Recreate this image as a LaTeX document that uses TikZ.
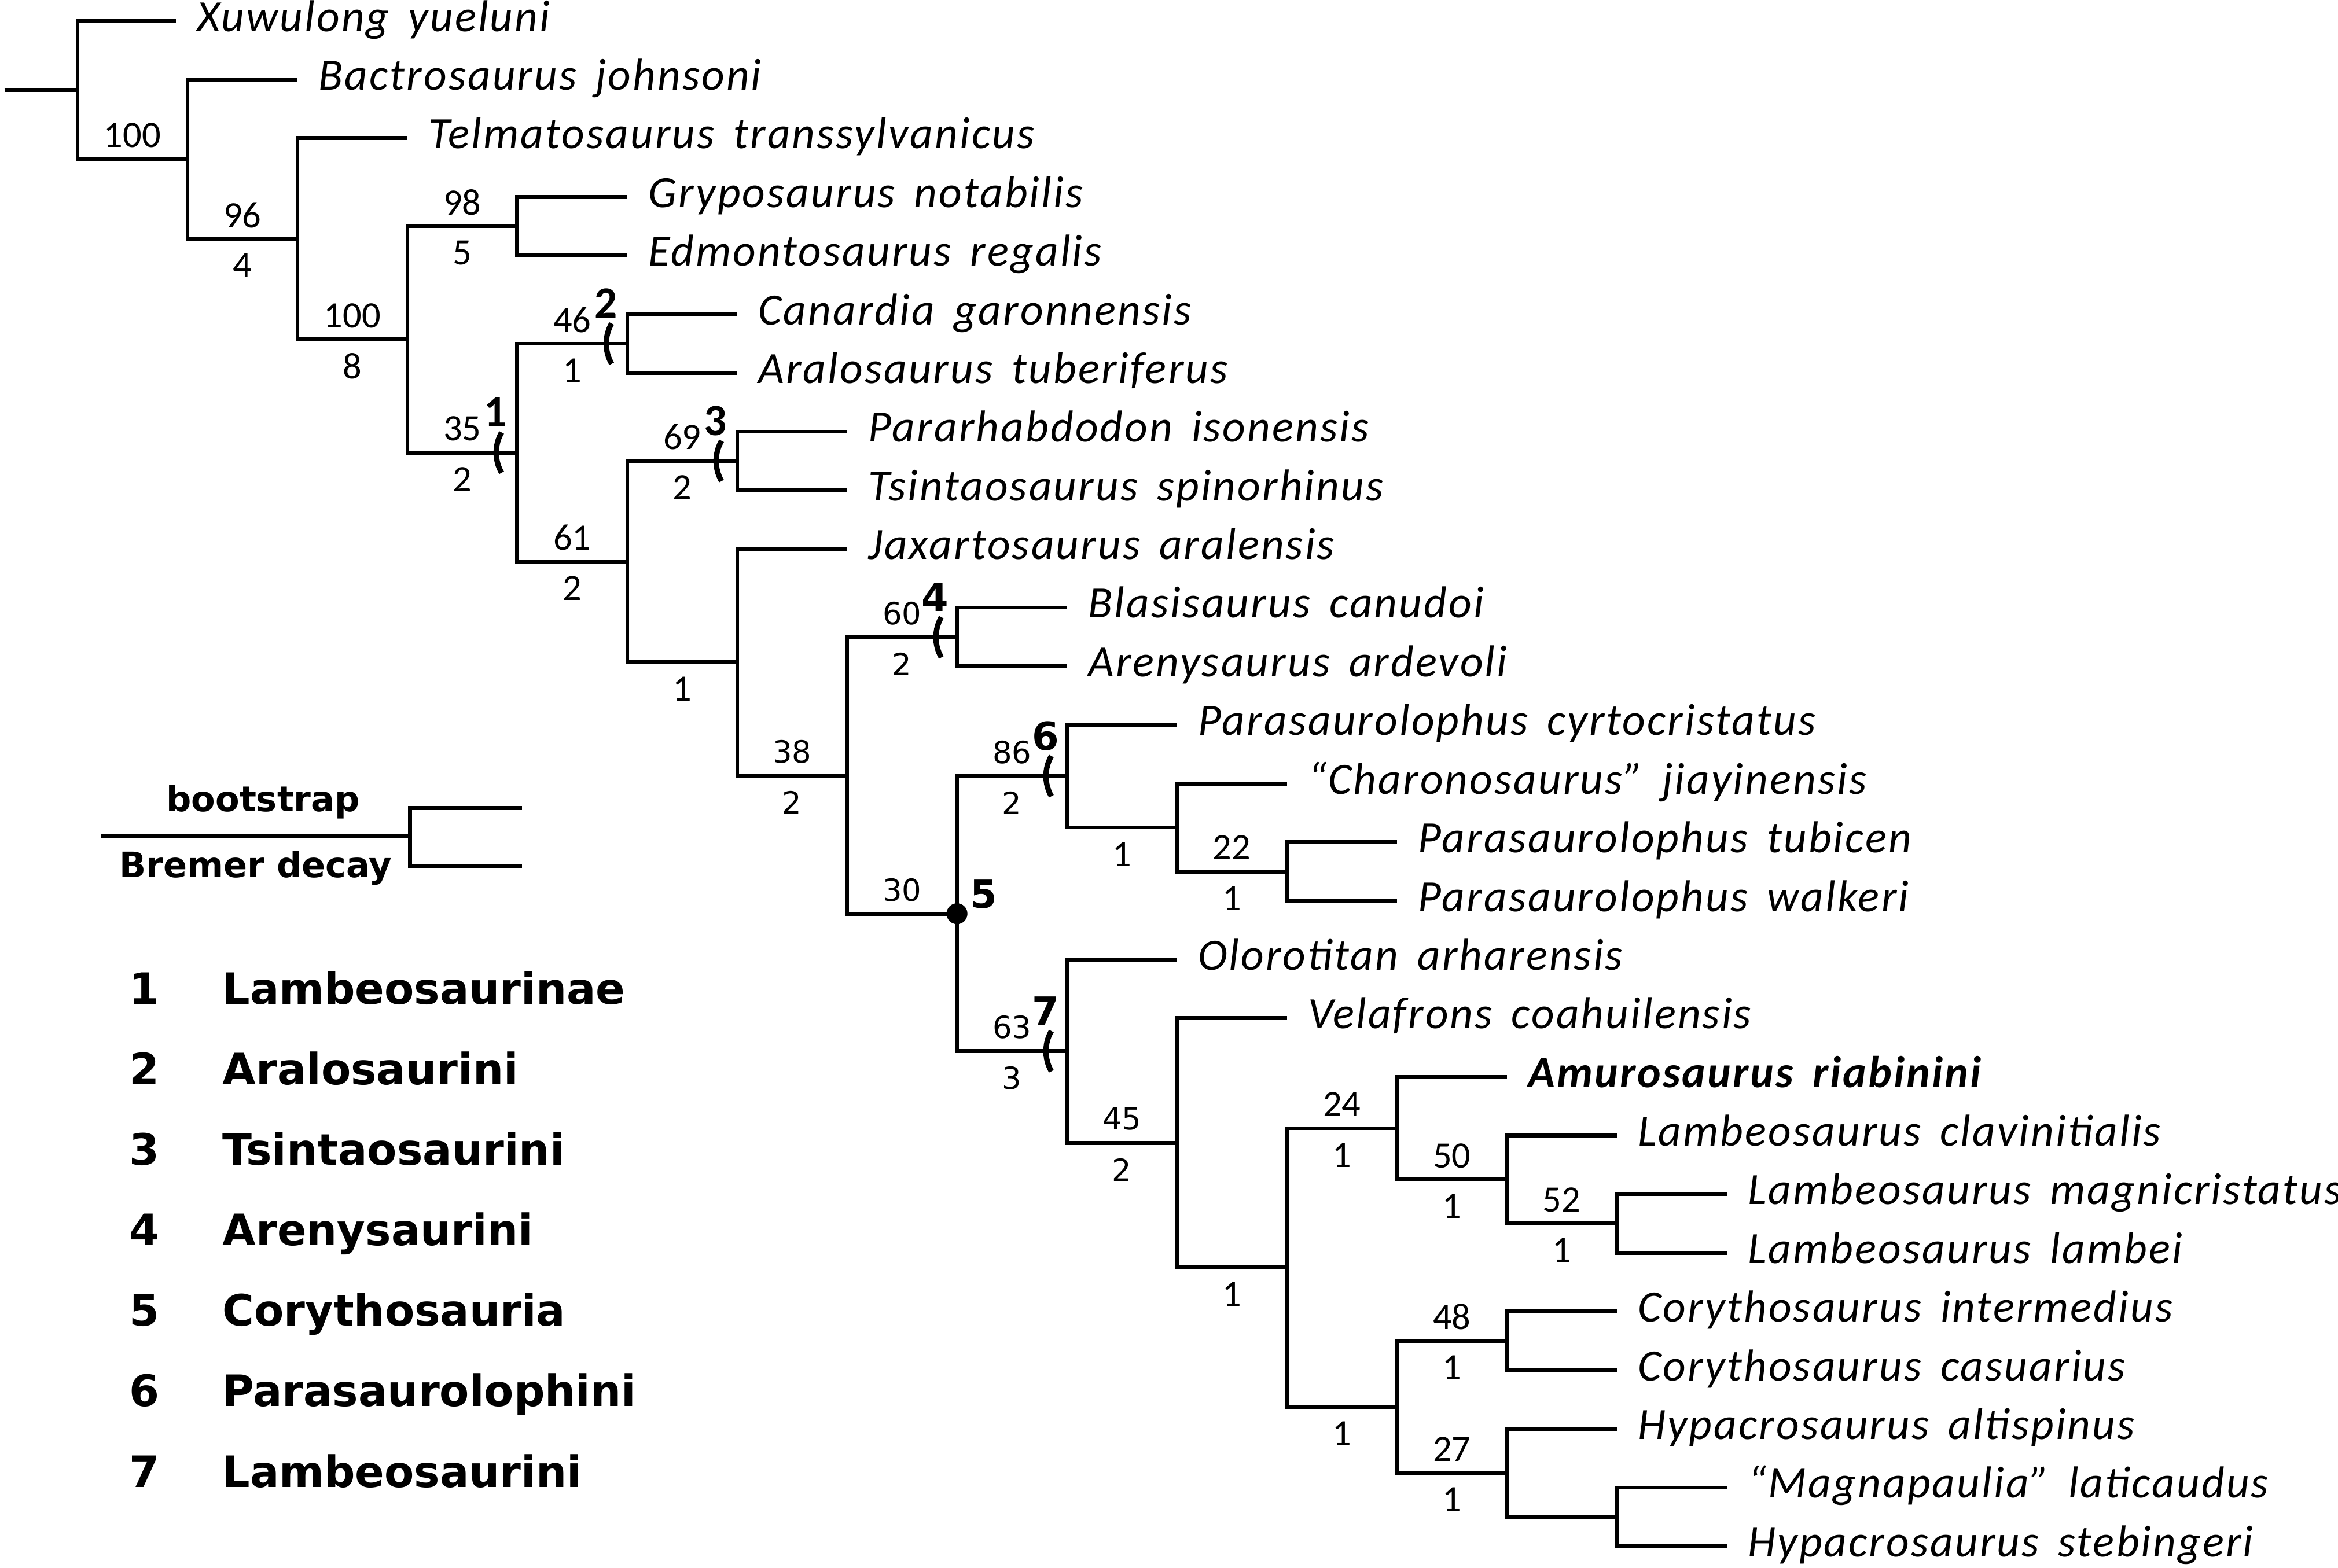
\documentclass[tikz,border=0pt]{standalone}
\usepackage{fontspec}
\setmainfont{Carlito}
\newfontfamily\taxfont[LetterSpace=4,WordSpace=1.6]{Carlito}
\newfontfamily\verfont{DejaVu Sans}
\usetikzlibrary{calc}
\def\cladetick(#1)#2#3{\draw[tick] ($(#1)+(-10.5,-13.5)$) arc (210:150:27);
	\node[#3] at ($(#1)+(-14.5,-27)$) {#2};}
\tikzset{
	branch/.style={line width=2.6pt},
	tick/.style={line width=3.6pt},
	taxon/.style={anchor=west, inner xsep=14pt, inner ysep=0pt, text height=21pt, text depth=7pt, font=\taxfont\itshape\fontsize{30}{30}\selectfont},
	bs/.style={font=\fontsize{25}{25}\selectfont, yshift=16pt},
	bd/.style={font=\fontsize{25}{25}\selectfont, yshift=-18pt},
	vbs/.style={font=\verfont\fontsize{20.5}{20.5}\selectfont, yshift=16pt},
	vbd/.style={font=\verfont\fontsize{20.5}{20.5}\selectfont, yshift=-18pt},
	cnum/.style={font=\bfseries\fontsize{30}{30}\selectfont},
	vnum/.style={font=\verfont\bfseries\fontsize{26}{26}\selectfont},
	legend/.style={font=\verfont\bfseries\fontsize{29}{29}\selectfont, text height=21pt, text depth=0pt},
}
\begin{document}
\begin{tikzpicture}[x=1pt, y=-1pt]
			%%%%% START %%%%%
			\fill[white] (0,0) rectangle (1568,1051.8);
			\useasboundingbox (0,0) rectangle (1568,1051.8);
			
			\coordinate (root) at (3,60.4);
			\coordinate (nRoot) at (52,60.4);
			\coordinate (n100a) at (125.7,106.8);
			\coordinate (n96) at (199.5,160.2);
			\coordinate (n100b) at (273.2,227.7);
			\coordinate (n98) at (346.9,151.8);
			\coordinate (n35) at (346.9,303.6);
			\coordinate (n46) at (420.7,230.5);
			\coordinate (n61) at (420.7,376.7);
			\coordinate (n69) at (494.4,309.2);
			\coordinate (nJ) at (494.4,444.2);
			\coordinate (n38) at (568.1,520.2);
			\coordinate (n60) at (641.8,427.5);
			\coordinate (n30) at (641.8,612.9);
			\coordinate (n86) at (715.6,520.6);
			\coordinate (nP) at (789.3,555);
			\coordinate (n22) at (863,584.6);
			\coordinate (n63) at (715.6,705.1);
			\coordinate (n45) at (789.3,766.6);
			\coordinate (nR) at (863,850.2);
			\coordinate (n24) at (936.8,756.8);
			\coordinate (n50) at (1010.5,791.2);
			\coordinate (n52) at (1084.2,820.7);
			\coordinate (nQ) at (936.8,943.7);
			\coordinate (n48) at (1010.5,899.4);
			\coordinate (n27) at (1010.5,988);
			\coordinate (nM) at (1084.2,1017.5);
			
			\node[taxon] (tXuw) at (118,14) {Xuwulong yueluni};
			\node[taxon] (tBac) at (199.5,53.4) {Bactrosaurus johnsoni};
			\node[taxon] (tTel) at (273.2,92.7) {Telmatosaurus transsylvanicus};
			\node[taxon] (tGry) at (420.7,132.1) {Gryposaurus notabilis};
			\node[taxon] (tEdm) at (420.7,171.4) {Edmontosaurus regalis};
			\node[taxon] (tCan) at (494.4,210.8) {Canardia garonnensis};
			\node[taxon] (tAra) at (494.4,250.1) {Aralosaurus tuberiferus};
			\node[taxon] (tPar) at (568.1,289.5) {Pararhabdodon isonensis};
			\node[taxon] (tTsi) at (568.1,328.8) {Tsintaosaurus spinorhinus};
			\node[taxon] (tJax) at (568.1,368.2) {Jaxartosaurus aralensis};
			\node[taxon] (tBla) at (715.6,407.5) {Blasisaurus canudoi};
			\node[taxon] (tAre) at (715.6,446.9) {Arenysaurus ardevoli};
			\node[taxon] (tPcy) at (789.3,486.2) {Parasaurolophus cyrtocristatus};
			\node[taxon] (tCha) at (863,525.6) {“Charonosaurus” jiayinensis};
			\node[taxon] (tPtu) at (936.8,564.9) {Parasaurolophus tubicen};
			\node[taxon] (tPwa) at (936.8,604.3) {Parasaurolophus walkeri};
			\node[taxon] (tOlo) at (789.3,643.6) {Olorotitan arharensis};
			\node[taxon] (tVel) at (863,683) {Velafrons coahuilensis};
			\node[taxon, font=\taxfont\bfseries\itshape\fontsize{30}{30}\selectfont] (tAmu) at (1010.5,722.3) {Amurosaurus riabinini};
			\node[taxon] (tLcl) at (1084.2,761.7) {Lambeosaurus clavinitialis};
			\node[taxon] (tLma) at (1158,801) {Lambeosaurus magnicristatus};
			\node[taxon] (tLla) at (1158,840.4) {Lambeosaurus lambei};
			\node[taxon] (tCin) at (1084.2,879.7) {Corythosaurus intermedius};
			\node[taxon] (tCca) at (1084.2,919.1) {Corythosaurus casuarius};
			\node[taxon] (tHal) at (1084.2,958.4) {Hypacrosaurus altispinus};
			\node[taxon] (tMag) at (1158,997.8) {“Magnapaulia” laticaudus};
			\node[taxon] (tHst) at (1158,1037.1) {Hypacrosaurus stebingeri};
			
			\draw[branch] (root) -- (nRoot);
			\draw[branch] (nRoot) |- (tXuw.west);
			\draw[branch] (nRoot) |- (n100a) node[pos=.75, bs] {100};
			\draw[branch] (n100a) |- (tBac.west);
			\draw[branch] (n100a) |- (n96) node[pos=.75, bs] {96} node[pos=.75, bd] {4};
			\draw[branch] (n96) |- (tTel.west);
			\draw[branch] (n96) |- (n100b) node[pos=.75, bs] {100} node[pos=.75, bd] {8};
			\draw[branch] (n100b) |- (n98) node[pos=.75, bs] {98} node[pos=.75, bd] {5};
			\draw[branch] (n100b) |- (n35) node[pos=.75, bs] {35} node[pos=.75, bd] {2};
			\draw[branch] (n98) |- (tGry.west);
			\draw[branch] (n98) |- (tEdm.west);
			\draw[branch] (n35) |- (n46) node[pos=.75, bs] {46} node[pos=.75, bd] {1};
			\draw[branch] (n35) |- (n61) node[pos=.75, bs] {61} node[pos=.75, bd] {2};
			\draw[branch] (n46) |- (tCan.west);
			\draw[branch] (n46) |- (tAra.west);
			\draw[branch] (n61) |- (n69) node[pos=.75, bs] {69} node[pos=.75, bd] {2};
			\draw[branch] (n61) |- (nJ) node[pos=.75, bd] {1};
			\draw[branch] (n69) |- (tPar.west);
			\draw[branch] (n69) |- (tTsi.west);
			\draw[branch] (nJ) |- (tJax.west);
			\draw[branch] (nJ) |- (n38) node[pos=.75, vbs] {38} node[pos=.75, vbd] {2};
			\draw[branch] (n38) |- (n60) node[pos=.75, vbs] {60} node[pos=.75, vbd] {2};
			\draw[branch] (n38) |- (n30) node[pos=.75, vbs] {30};
			\draw[branch] (n60) |- (tBla.west);
			\draw[branch] (n60) |- (tAre.west);
			\draw[branch] (n30) |- (n86) node[pos=.75, vbs] {86} node[pos=.75, vbd] {2};
			\draw[branch] (n30) |- (n63) node[pos=.75, vbs] {63} node[pos=.75, vbd] {3};
			\draw[branch] (n86) |- (tPcy.west);
			\draw[branch] (n86) |- (nP) node[pos=.75, bd] {1};
			\draw[branch] (nP) |- (tCha.west);
			\draw[branch] (nP) |- (n22) node[pos=.75, bs] {22} node[pos=.75, bd] {1};
			\draw[branch] (n22) |- (tPtu.west);
			\draw[branch] (n22) |- (tPwa.west);
			\draw[branch] (n63) |- (tOlo.west);
			\draw[branch] (n63) |- (n45) node[pos=.75, vbs] {45} node[pos=.75, vbd] {2};
			\draw[branch] (n45) |- (tVel.west);
			\draw[branch] (n45) |- (nR) node[pos=.75, bd] {1};
			\draw[branch] (nR) |- (n24) node[pos=.75, bs] {24} node[pos=.75, bd] {1};
			\draw[branch] (nR) |- (nQ) node[pos=.75, bd] {1};
			\draw[branch] (n24) |- (tAmu.west);
			\draw[branch] (n24) |- (n50) node[pos=.75, bs] {50} node[pos=.75, bd] {1};
			\draw[branch] (n50) |- (tLcl.west);
			\draw[branch] (n50) |- (n52) node[pos=.75, bs] {52} node[pos=.75, bd] {1};
			\draw[branch] (n52) |- (tLma.west);
			\draw[branch] (n52) |- (tLla.west);
			\draw[branch] (nQ) |- (n48) node[pos=.75, bs] {48} node[pos=.75, bd] {1};
			\draw[branch] (nQ) |- (n27) node[pos=.75, bs] {27} node[pos=.75, bd] {1};
			\draw[branch] (n48) |- (tCin.west);
			\draw[branch] (n48) |- (tCca.west);
			\draw[branch] (n27) |- (tHal.west);
			\draw[branch] (n27) |- (nM);
			\draw[branch] (nM) |- (tMag.west);
			\draw[branch] (nM) |- (tHst.west);
			
			\cladetick(n35){1}{cnum}
			\cladetick(n46){2}{cnum}
			\cladetick(n69){3}{cnum}
			\cladetick(n60){4}{vnum}
			\cladetick(n86){6}{vnum}
			\cladetick(n63){7}{vnum}
			\fill (n30) circle (7);
			\node[vnum] (c5) at ($(n30)+(18,-13)$) {5};
			
			%%%%% LEGEND %%%%%
			\coordinate (lgRoot) at (68,561);
			\coordinate (lgNode) at (275,561);
			\coordinate (lgTop) at (350,542);
			\coordinate (lgBot) at (350,581);
			\draw[branch] (lgRoot) -- (lgNode)
				node[midway, font=\verfont\bfseries\fontsize{23.5}{23.5}\selectfont, xshift=5pt, yshift=23pt] {bootstrap}
				node[midway, font=\verfont\bfseries\fontsize{23.5}{23.5}\selectfont, yshift=-21pt] {Bremer decay};
			\draw[branch] (lgNode) |- (lgTop);
			\draw[branch] (lgNode) |- (lgBot);
			
			\foreach \clade [count=\i] in {Lambeosaurinae, Aralosaurini, Tsintaosaurini, Arenysaurini, Corythosauria, Parasaurolophini, Lambeosaurini}{
				\node[legend] (lgNum\i) at (97,{663+54*(\i-1)}) {\i};
				\node[legend, anchor=west, inner xsep=0pt] (lgName\i) at (149,{663+54*(\i-1)}) {\clade};
			}
			%%%%% END %%%%%
\end{tikzpicture}
\end{document}
